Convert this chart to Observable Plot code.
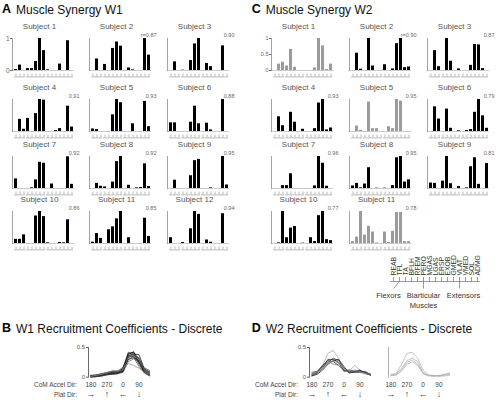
<!DOCTYPE html>
<html><head><meta charset="utf-8">
<script src="https://cdn.jsdelivr.net/npm/d3@7"></script>
<script src="https://cdn.jsdelivr.net/npm/@observablehq/plot@0.6"></script>
<style>
body{margin:0;background:#fff;}
#page{position:relative;width:500px;height:400px;overflow:hidden;font-family:"Liberation Sans",Arial,Helvetica,sans-serif;background:#fff;}
.lab{position:absolute;white-space:nowrap;line-height:1;}
</style></head><body><div id="page"></div>
<script>
// ---------- data ----------
const muscles = ["REAB","TFL","TA","BFLH","RFEM","PERO","MGAS","LGAS","ERSP","EXOB","GMED","VLAT","VMED","SOL","ADMG"];
const groupNames = ["Flexors","Biarticular","Extensors"];
const groupSecondLine = ["","Muscles",""];
const groupFirst = ["REAB","BFLH","ERSP"];
const groupLast = ["TA","LGAS","ADMG"];
const groupMid = ["TFL","PERO","VLAT"];
const groupPointTo = ["REAB","PERO","VLAT"];

// Muscle synergy W1 (panel A), subjects 1-12
const w1S1  = [0.03,0.17,0,0.06,0.06,0.28,1.00,0.62,0.02,0,0,0.20,0,0.93,0];
const w1S2  = [0,0.36,0,0.19,0,0.69,0.89,0.76,0,0.08,0.02,0,0,1.00,0.48];
const w1S3  = [0,0.27,0,0.01,0,0.31,0.83,1.00,0,0.22,0.12,0,0,0.77,0];
const w1S4  = [0,0.38,0.07,0.41,0,0.56,1.00,0.98,0,0,0.03,0.09,0,0.79,0.14];
const w1S5  = [0.08,0.06,0,0,0,0.52,1.00,0.90,0,0,0.24,0,0,0.94,0.15];
const w1S6  = [0.27,0.27,0,0,0,0.29,0.79,0.24,0,0.26,0.05,0,0,1.00,0];
const w1S7  = [0.30,0,0,0,0.02,0.27,0.82,0.79,0,0.14,0,0,0,0.99,0.13];
const w1S8  = [0,0.16,0.07,0.05,0,0.20,0.84,1.00,0,0.10,0,0.02,0.03,0.77,0.06];
const w1S9  = [0,0.26,0,0,0,0.40,0.87,0.91,0,0,0.02,0,0,1.00,0.11];
const w1S10 = [0.13,0.13,0.27,0,0,0.86,1.00,0.84,0.02,0,0,0.03,0.02,0.74,0];
const w1S11 = [0.04,0.31,0.16,0,0.43,0.52,0.77,1.00,0,0.18,0,0,0,0.79,0.22];
const w1S12 = [0.18,0,0,0.03,0,0.46,1.00,0.91,0,0.11,0.04,0,0,0.93,0];
const w1R = ["","r=0.87","0.90","0.91","0.93","0.88","0.92","0.92","0.95","0.86","0.85","0.94"];

// Muscle synergy W2 (panel C), subjects 1-11
const w2S1  = [0,0.20,0.26,0.14,0.66,0.10,0,0,0,0,0.08,1.00,0.77,0.03,0.20];
const w2S2  = [0,0.54,0.04,0,1.00,0.14,0,0,0.18,0,0.05,0.84,1.00,0.09,0.11];
const w2S3  = [0,0.62,0.12,0,1.00,0.29,0,0.05,0,0,0.16,0.81,0.80,0.06,0];
const w2S4  = [0,0.46,0.18,0,0.60,0.29,0,0.07,0,0,0.09,0.89,1.00,0.05,0.11];
const w2S5  = [0,0.17,0.04,0,0.92,0.09,0.09,0,0,0.15,0.09,1.00,0.95,0,0];
const w2S6  = [0,0.77,0.39,0,0.70,0.10,0,0.02,0,0.03,0.06,0.60,1.00,0.49,0.10];
const w2S7  = [0,0,0.09,0.09,0.46,0,0,0,0,0,0.08,1.00,0.79,0.07,0];
const w2S8  = [0.08,0.16,0.02,0.14,0.65,0,0.01,0,0.01,0,0.09,0.96,1.00,0.20,0.27];
const w2S9  = [0.17,0.16,0,0.23,1.00,0.15,0,0.06,0,0.02,0.68,0.96,0.13,0,0.78];
const w2S10 = [0,0.02,1.00,0.18,0.48,0.53,0,0.01,0,0.18,0.06,0.87,1.00,0.12,0.09];
const w2S11 = [0.06,0.20,1.00,0.26,0.54,0.36,0.02,0,0.36,0.03,0.38,0.97,0.97,0.06,0.06];
const w2R = ["","r=0.90","0.87","0.93","0.95","0.79","0.96","0.95","0.81","0.77","0.78"];
const w2GraySubjects = [1,5,11];

// Recruitment coefficients (panels B, D)
const dirs = [180,210,240,270,300,330,360,390,420,450,480,510];
const dirTicks = [180,270,360,450];
const dirTickLabels = ["180","270","0","90"];
const platArrows = ["\u2192","\u2191","\u2190","\u2193"];

const b1  = [0.02,0.03,0.04,0.06,0.08,0.08,0.12,0.40,0.42,0.30,0.12,0.06];
const b2  = [0.01,0.02,0.04,0.05,0.07,0.07,0.10,0.36,0.40,0.26,0.10,0.05];
const b3  = [0.00,0.01,0.03,0.05,0.06,0.06,0.15,0.42,0.38,0.22,0.08,0.03];
const b4  = [0.02,0.03,0.05,0.07,0.09,0.09,0.17,0.34,0.39,0.38,0.14,0.09];
const b5  = [0.03,0.03,0.05,0.06,0.07,0.08,0.13,0.30,0.35,0.24,0.16,0.11];
const b6  = [0.01,0.01,0.02,0.04,0.05,0.06,0.09,0.30,0.33,0.28,0.10,0.04];
const b7  = [0.02,0.03,0.04,0.05,0.06,0.07,0.11,0.37,0.34,0.18,0.07,0.02];
const b8  = [0.00,0.01,0.02,0.04,0.05,0.06,0.08,0.26,0.31,0.27,0.15,0.08];
const b9  = [0.03,0.04,0.06,0.08,0.10,0.10,0.14,0.38,0.43,0.25,0.09,0.05];
const b10 = [0.01,0.02,0.03,0.05,0.06,0.07,0.10,0.33,0.37,0.33,0.13,0.07];
const b11 = [0.02,0.03,0.05,0.07,0.11,0.10,0.16,0.23,0.20,0.15,0.09,0.05];
const b12 = [0.01,0.03,0.05,0.08,0.10,0.11,0.12,0.35,0.40,0.28,0.12,0.06];
const bColors = ["#000","#000","#222","#000","#555","#000","#333","#555","#000","#222","#888","#777"];

const d1 = [0.05,0.10,0.20,0.40,0.45,0.32,0.12,0.10,0.20,0.12,0.08,0.04];
const d2 = [0.03,0.07,0.15,0.30,0.30,0.25,0.10,0.12,0.10,0.10,0.08,0.05];
const d3 = [0.05,0.08,0.20,0.28,0.26,0.20,0.12,0.08,0.10,0.12,0.07,0.03];
const d4 = [0.08,0.10,0.18,0.25,0.32,0.28,0.15,0.10,0.08,0.08,0.10,0.04];
const d5 = [0.02,0.05,0.12,0.22,0.28,0.30,0.18,0.07,0.09,0.11,0.06,0.04];
const d6 = [0.04,0.08,0.17,0.26,0.22,0.20,0.12,0.09,0.10,0.08,0.06,0.05];
const d7 = [0.06,0.09,0.14,0.24,0.27,0.24,0.14,0.11,0.12,0.10,0.07,0.04];
const dColors = ["#999","#000","#111","#222","#000","#777","#888"];

const e1 = [0.05,0.06,0.22,0.40,0.42,0.32,0.12,0.04,0.03,0.02,0.04,0.06];
const e2 = [0.03,0.05,0.15,0.28,0.32,0.26,0.08,0.03,0.02,0.03,0.05,0.07];
const e3 = [0.02,0.04,0.12,0.25,0.29,0.22,0.06,0.02,0.02,0.02,0.03,0.05];
const e4 = [0.04,0.04,0.10,0.22,0.26,0.20,0.07,0.03,0.02,0.02,0.02,0.03];
const eColors = ["#aaa","#aaa","#b0b0b0","#b0b0b0"];

// ---------- layout ----------
const FONT = "Liberation Sans, Arial, Helvetica, sans-serif";
const A_COLS = [12.3, 89.3, 166.7];
const C_COLS = [270.7, 349.3, 427.3];
const ROW_TOPS = [38.3, 99, 156, 211];
const page = document.getElementById("page");

function place(node, left, top) {
  const d = document.createElement("div");
  d.style.cssText = `position:absolute;left:${left}px;top:${top}px;`;
  d.appendChild(node);
  page.appendChild(d);
}
function label(text, {left, right, cy, size, color = "#111", weight = "normal"}) {
  const d = document.createElement("div");
  d.className = "lab";
  d.textContent = text;
  let css = `top:${cy - size / 2}px;font-size:${size}px;color:${color};font-weight:${weight};`;
  if (left != null) css += `left:${left}px;`;
  if (right != null) css += `right:${500 - right}px;`;
  d.style.cssText = css;
  page.appendChild(d);
}
const svgStyle = {background: "transparent", overflow: "visible", maxWidth: "none", fontFamily: FONT};

// bar subplot geometry
const ML = 16, MR = 8, MT = 18, MB = 9, PW = 62, PH = 32;
const BR_LOW = -0.2, BR_HIGH = -0.11;

function barChart(values, {title, r, ticks, tickFont, gray, axisX, top}) {
  const rows = muscles.map((m, k) => ({muscle: m, value: values[k]}));
  const grp = groupNames.map((g, i) => ({first: groupFirst[i], last: groupLast[i]}));
  const marks = [
    Plot.ruleY([0], {stroke: "#bdbdbd", strokeWidth: 0.8}),
    Plot.barY(rows, {x: "muscle", y: "value", fill: gray ? "#9b9b9b" : "#000"}),
    Plot.frame({anchor: "left", stroke: "#8c8c8c", strokeWidth: 0.8}),
    Plot.ruleX(muscles, {x: d => d, y1: () => BR_LOW, y2: () => BR_HIGH, stroke: "#8c8c8c", strokeWidth: 0.6}),
    Plot.ruleY(grp, {x1: "first", x2: "last", y: () => BR_LOW, stroke: "#8c8c8c", strokeWidth: 0.6}),
    Plot.text([title], {text: d => d, frameAnchor: "top", lineAnchor: "middle", dy: -12, dx: -4, fontSize: 8, fill: "#555"})
  ];
  if (r) marks.push(Plot.text([r], {text: d => d, frameAnchor: "top-right", textAnchor: "end", lineAnchor: "middle", dx: 5, dy: -3, fontSize: 5.5, fill: "#666"}));
  if (ticks) marks.push(Plot.axisY({ticks, tickSize: 2, tickPadding: 1, fontSize: tickFont, label: null, color: "#666", tickFormat: d => String(d)}));
  const svg = Plot.plot({
    width: ML + PW + MR, height: MT + PH + MB,
    marginLeft: ML, marginRight: MR, marginTop: MT, marginBottom: MB,
    style: svgStyle,
    x: {type: "band", domain: muscles, paddingInner: 0.25, paddingOuter: 0.1, axis: null},
    y: ticks ? {domain: [0, 1]} : {domain: [0, 1], axis: null},
    marks
  });
  place(svg, axisX - ML, top - MT);
}

// panel A
const w1All = [w1S1,w1S2,w1S3,w1S4,w1S5,w1S6,w1S7,w1S8,w1S9,w1S10,w1S11,w1S12];
w1All.forEach((vals, i) => {
  barChart(vals, {
    title: `Subject ${i + 1}`, r: w1R[i], ticks: i === 0 ? [0, 1] : null, tickFont: 6.5,
    gray: false, axisX: A_COLS[i % 3], top: ROW_TOPS[Math.floor(i / 3)]
  });
});
// panel C
const w2All = [w2S1,w2S2,w2S3,w2S4,w2S5,w2S6,w2S7,w2S8,w2S9,w2S10,w2S11];
w2All.forEach((vals, i) => {
  barChart(vals, {
    title: `Subject ${i + 1}`, r: w2R[i], ticks: i === 0 ? [0, 0.5, 1] : null, tickFont: 5.5,
    gray: w2GraySubjects.includes(i + 1), axisX: C_COLS[i % 3], top: ROW_TOPS[Math.floor(i / 3)]
  });
});

// muscle legend
(function () {
  const LX0 = 387.55, STEP = 6.3, LML = 8, LMR = 8;
  const LABEL_BASE = 25, BR_TOP = 27, BR_Y = 31, PTR_END = 38, GROUP_Y = 45, GROUP_Y2 = 54.7;
  const groupDx = [-11, 0, 4];
  const grp = groupNames.map((g, i) => ({first: groupFirst[i], last: groupLast[i], mid: groupMid[i], to: groupPointTo[i]}));
  const marks = [
    Plot.text(muscles, {x: d => d, y: () => LABEL_BASE, text: d => d, rotate: -90, textAnchor: "start", lineAnchor: "middle", fontSize: 6.8, fill: "#333"}),
    Plot.ruleX(muscles, {x: d => d, y1: () => BR_TOP, y2: () => BR_Y, stroke: "#555", strokeWidth: 0.6}),
    Plot.ruleY(grp, {x1: "first", x2: "last", y: () => BR_Y, stroke: "#555", strokeWidth: 0.6}),
    Plot.link(grp, {x1: "mid", x2: "to", y1: () => BR_Y, y2: () => PTR_END, stroke: "#555", strokeWidth: 0.6})
  ];
  groupNames.forEach((g, i) => {
    marks.push(Plot.text([g], {x: () => groupMid[i], y: () => GROUP_Y, text: d => d, dx: groupDx[i], fontSize: 7.5, fill: "#333"}));
    if (groupSecondLine[i]) marks.push(Plot.text([groupSecondLine[i]], {x: () => groupMid[i], y: () => GROUP_Y2, text: d => d, dx: groupDx[i], fontSize: 7.5, fill: "#333"}));
  });
  const svg = Plot.plot({
    width: LML + STEP * muscles.length + LMR, height: 62,
    marginLeft: LML, marginRight: LMR, marginTop: 0, marginBottom: 0,
    style: svgStyle,
    x: {type: "band", domain: muscles, padding: 0, axis: null},
    y: {domain: [0, 62], range: [0, 62], axis: null},
    marks
  });
  place(svg, LX0 - LML, 250);
})();

// line charts
const LML = 22, LMR = 6, LMT = 4, LMB = 26, LPW = 62.4, LPH = 29.7;
const X_DOMAIN = [166.5, 517];
function lineChart(series, colors, {axisX, yTicks, axisColor}) {
  const marks = [Plot.frame({anchor: "left", stroke: axisColor, strokeWidth: 0.8})];
  series.forEach((s, j) => {
    const rows = dirs.map((dir, k) => ({dir, value: s[k]}));
    marks.push(Plot.lineY(rows, {x: "dir", y: "value", stroke: colors[j], strokeWidth: 0.7}));
  });
  marks.push(Plot.axisX({ticks: dirTicks, tickFormat: d => dirTickLabels[dirTicks.indexOf(d)], tickSize: 0, tickPadding: 5, fontSize: 6.5, label: null, color: "#444"}));
  marks.push(Plot.axisX({ticks: dirTicks, tickFormat: d => platArrows[dirTicks.indexOf(d)], tickSize: 0, tickPadding: 13, fontSize: 9, label: null, color: "#444"}));
  if (yTicks) marks.push(Plot.axisY({ticks: [0, 0.5], tickSize: 2, tickPadding: 1.5, fontSize: 6, label: null, color: "#555", tickFormat: d => String(d)}));
  const svg = Plot.plot({
    width: LML + LPW + LMR, height: LMT + LPH + LMB,
    marginLeft: LML, marginRight: LMR, marginTop: LMT, marginBottom: LMB,
    style: svgStyle,
    x: {domain: X_DOMAIN},
    y: yTicks ? {domain: [0, 0.5]} : {domain: [0, 0.5], axis: null},
    marks
  });
  place(svg, axisX - LML, 347.3 - LMT);
}
lineChart([b1,b2,b3,b4,b5,b6,b7,b8,b9,b10,b11,b12], bColors, {axisX: 88.3, yTicks: true, axisColor: "#444"});
lineChart([d1,d2,d3,d4,d5,d6,d7], dColors, {axisX: 309.3, yTicks: true, axisColor: "#444"});
lineChart([e1,e2,e3,e4], eColors, {axisX: 387.7, yTicks: false, axisColor: "#999"});

// panel titles and side labels
function panelTitle(letter, text, x, cy) {
  label(letter, {left: x, cy, size: 12.5, weight: "bold", color: "#000"});
  label(text, {left: x + 14, cy, size: 12, color: "#111"});
}
panelTitle("A", "Muscle Synergy W1", 2, 9.5);
panelTitle("C", "Muscle Synergy W2", 251.7, 9.5);
panelTitle("B", "W1 Recruitment Coefficients - Discrete", 2, 328.5);
panelTitle("D", "W2 Recruitment Coefficients - Discrete", 251.7, 328.5);
label("CoM Accel Dir:", {right: 77, cy: 385.3, size: 6.5, color: "#444"});
label("Plat Dir:", {right: 77, cy: 395.7, size: 6.5, color: "#444"});
label("CoM Accel Dir:", {right: 298, cy: 385.3, size: 6.5, color: "#444"});
label("Plat Dir:", {right: 298, cy: 395.7, size: 6.5, color: "#444"});
</script></body></html>
